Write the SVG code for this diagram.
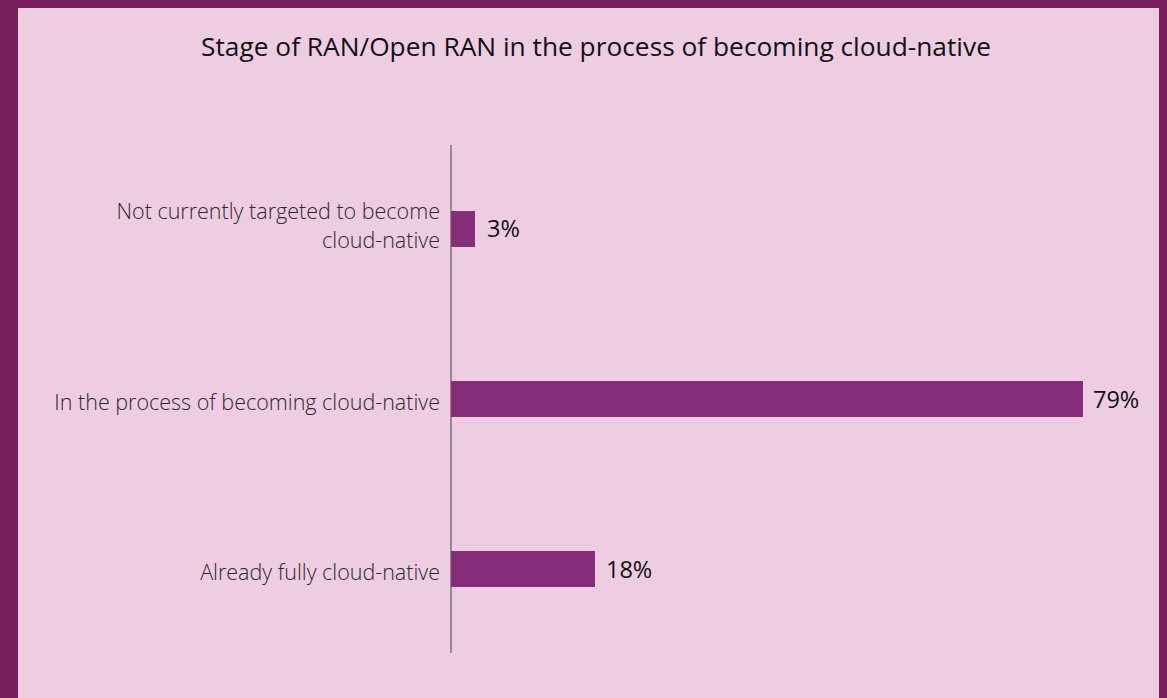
<svg xmlns="http://www.w3.org/2000/svg" width="1167" height="698" viewBox="0 0 1167 698">
<style>
.bg{fill:#eecce2}
.frame{fill:#7a1f5e}
.bar{fill:#862d79}
.axis{stroke:#666;stroke-width:1.3}
.title{font-family:"Open Sans","Liberation Sans",sans-serif;font-size:26.3px;fill:#111;text-anchor:middle}
.lbl{font-family:"Open Sans","Liberation Sans",sans-serif;font-size:21.5px;font-weight:300;fill:#2a2a2a;text-anchor:end}
.val{font-family:"Open Sans","Liberation Sans",sans-serif;font-size:23.5px;fill:#111}
</style>
<rect class="frame" x="0" y="0" width="1167" height="698"/>
<rect class="bg" x="18" y="8" width="1141" height="690"/>
<text class="title" x="596" y="56">Stage of RAN/Open RAN in the process of becoming cloud-native</text>
<g id="connectors">
<line class="axis" x1="451" y1="145" x2="451" y2="653"/>
</g>
<g id="bar-not-targeted">
<rect class="bar" x="451" y="211" width="24" height="36"/>
<text class="lbl" x="440" y="219">Not currently targeted to become</text>
<text class="lbl" x="440" y="248">cloud-native</text>
<text class="val" x="487" y="237">3%</text>
</g>
<g id="bar-in-process">
<rect class="bar" x="451" y="381" width="632" height="36"/>
<text class="lbl" x="440" y="410">In the process of becoming cloud-native</text>
<text class="val" x="1093" y="408">79%</text>
</g>
<g id="bar-fully">
<rect class="bar" x="451" y="551" width="144" height="36"/>
<text class="lbl" x="440" y="580">Already fully cloud-native</text>
<text class="val" x="606" y="578">18%</text>
</g>
</svg>
